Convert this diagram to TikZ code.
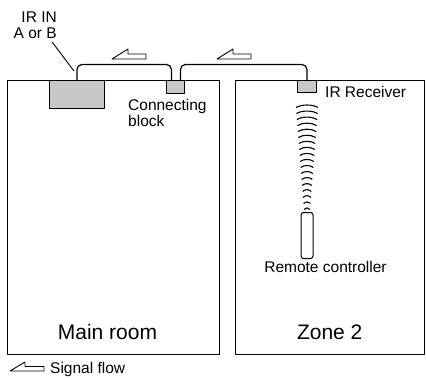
\documentclass[tikz,border=0pt]{standalone}
\usepackage{fontspec}
\setmainfont{Liberation Sans}
\begin{document}
\begin{tikzpicture}[x=1pt,y=-1pt,line join=round,
  room/.style={draw,line width=0.9pt,inner sep=0pt,anchor=north west},
  gbox/.style={draw,fill=black!22,line width=0.9pt,inner sep=0pt,anchor=north west},
  wire/.style={line width=1.2pt,rounded corners=5pt},
  small/.style={font=\fontsize{15.5}{17}\selectfont,inner sep=0pt},
  big/.style={font=\fontsize{21}{24}\selectfont,inner sep=0pt},
  flow/.style={draw,line width=0.9pt,fill=white},
  wave/.style={line width=1.1pt}]
\useasboundingbox (0,0) rectangle (426,380);
% rooms
\node[room,minimum width=212pt,minimum height=274pt] (main) at (7,80) {};
\node[room,minimum width=189pt,minimum height=274pt] (zone) at (235,80) {};
% boxes
\node[gbox,minimum width=55pt,minimum height=28pt] (irin) at (49,80) {};
\node[gbox,minimum width=18pt,minimum height=13pt] (cb) at (166,80) {};
\node[gbox,minimum width=19pt,minimum height=12pt] (irr) at (297,80) {};
% wires
\draw[wire] (irin.north) -- ++(0,-15.5) -| ([xshift=-4pt]cb.north);
\draw[wire] ([xshift=5pt]cb.north) -- ++(0,-15.5) -| (irr.north);
% signal arrows
\draw[flow] (112,59) -- ++(16,-10) -- ++(0,5) -- ++(18,0) -- ++(0,5) -- cycle;
\draw[flow] (217,59) -- ++(16,-10) -- ++(0,5) -- ++(18,0) -- ++(0,5) -- cycle;
\draw[flow] (10,371) -- ++(15,-9) -- ++(0,4.5) -- ++(19,0) -- ++(0,4.5) -- cycle;
% labels
\node[small,anchor=base east] (irinA) at (57,22.7) {IR IN};
\node[small,anchor=base east] (irinB) at (57,38.5) {A or B};
\coordinate (lead) at (74,71);
\draw[line width=0.9pt] ([xshift=-5pt,yshift=-3pt]irinB.south east) -- (lead);
\node[small,anchor=base west] (cbl1) at (128,110) {Connecting};
\node[small,anchor=base west] (cbl2) at (128,126.5) {block};
\node[small,anchor=base west] (irrl) at (325,97) {IR Receiver};
\node[small,anchor=base] (rcl) at (325.5,272) {Remote controller};
\node[big,anchor=base] (mainl) at (107.5,339) {Main room};
\node[big,anchor=base] (zonel) at (329.7,339) {Zone 2};
\node[small,anchor=base west] (sfl) at (50,373) {Signal flow};
% waves
\foreach \i in {0,...,17}{
  \pgfmathsetmacro{\yy}{105+\i*6.05}
  \pgfmathsetmacro{\ww}{11-\i*8/17}
  \pgfmathsetmacro{\ss}{2.6-\i*0.06}
  \draw[wave] (307-\ww,\yy+\ss) .. controls (307-\ww/2,\yy-\ss/3) and (307+\ww/2,\yy-\ss/3) .. (307+\ww,\yy+\ss);
}
% remote
\node[draw,rounded corners=2.5pt,minimum width=12pt,minimum height=46pt,anchor=north,inner sep=0pt,line width=1pt] (remote) at (307,212) {};
\end{tikzpicture}
\end{document}
